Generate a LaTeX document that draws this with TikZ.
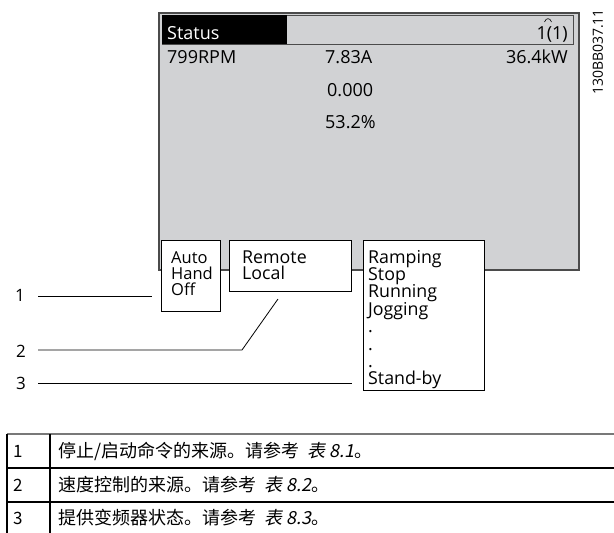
\documentclass[tikz,border=0pt]{standalone}
\usepackage{fontspec}
\setmainfont{Open Sans}
\newfontfamily\cjk[AutoFakeSlant=0.2]{Noto Sans CJK SC}
\definecolor{panel}{RGB}{209,210,212}
\definecolor{panelborder}{RGB}{75,75,75}
\definecolor{tgray}{RGB}{120,120,120}
\newcommand\mytight{\lineskiplimit=-30pt\relax}
\tikzset{
  pnl/.style={font=\fontsize{18}{18}\selectfont, inner sep=0pt},
  boxtxt/.style={font=\fontsize{16.5}{16}\selectfont\mytight, inner sep=0pt, anchor=base west, align=left},
  boxtxtb/.style={font=\fontsize{17.8}{17.4}\selectfont\mytight, inner sep=0pt, anchor=base west, align=left},
  whitebox/.style={draw=black, fill=white, line width=0.9pt},
  callout/.style={draw=black, line width=0.8pt},
  lbl/.style={font=\fontsize{17}{17}\selectfont, inner sep=0pt},
  tnum/.style={font=\cjk\fontsize{17}{17}\selectfont, inner sep=0pt, anchor=west},
  ttxt/.style={font=\cjk\fontsize{18}{18}\selectfont, inner sep=0pt, anchor=west},
  rule/.style={draw=black, line width=1.6pt}
}
\begin{document}
\begin{tikzpicture}[x=1pt,y=-1pt]
\useasboundingbox (0,0) rectangle (614,533);
% gray panel
\draw[fill=panel, draw=panelborder, line width=1.3pt] (159,13) rectangle (579,270);
% header
\draw[fill=panel, draw=panelborder, line width=0.8pt] (162,15) rectangle (573,44);
\fill[black] (162,15) rectangle (287,44);
\node[pnl, text=white, anchor=base west] (status) at (167,39) {Status};
\node[pnl, anchor=base east] (page) at (568,39) {1(1)};
\draw[line width=0.6pt] (544.5,22) .. controls (546,17.5) and (550,17.5) .. (551.5,22);
% values
\node[pnl, anchor=base west] (rpm) at (167,63) {799RPM};
\node[pnl, anchor=base west] (amp) at (325,63) {7.83A};
\node[pnl, anchor=base east] (kw) at (568,63) {36.4kW};
\node[pnl, anchor=base west] (zero) at (327,96) {0.000};
\node[pnl, anchor=base west] (pct) at (325,128) {53.2\%};
% id
\node[font=\fontsize{14}{14}\selectfont, rotate=90, inner sep=0pt] (id) at (598,52) {130BB037.11};
% boxes (text nodes anchored at the baseline of their last line)
\draw[whitebox] (161,240) rectangle (220,311);
\node[boxtxt] (mode) at (171,295) {Auto\\Hand\\Off};
\draw[whitebox] (229,240) rectangle (351,291);
\node[boxtxtb, font=\fontsize{17.8}{16.5}\selectfont\mytight] (ref) at (242,279.5) {Remote\\Local};
\draw[whitebox] (363,240) rectangle (484,390);
\node[boxtxtb] (state) at (368,384.8) {Ramping\\Stop\\Running\\Jogging\\.\\.\\.\\Stand-by};
% callouts
\node[lbl] (l1) at (20,295) {1};
\node[lbl] (l2) at (21,351) {2};
\node[lbl] (l3) at (21,383) {3};
\coordinate (e1) at (152,296);
\coordinate (k2) at (242,350);
\coordinate (e2) at (278,299);
\coordinate (e3) at (352,383);
\draw[callout] (38,296) -- (e1);
\draw[callout] (38,350) -- (k2) -- (e2);
\draw[callout] (38,383) -- (e3);
% table
\draw[draw=tgray, line width=1.2pt] (7,434) -- (614,434);
\draw[rule] (7,468) -- (614,468);
\draw[rule] (7,502) -- (614,502);
\draw[draw=black, line width=1.2pt] (7,434) -- (7,533);
\draw[rule] (50,434) -- (50,533);
\node[tnum] (t1) at (13,451) {1};
\node[tnum] (t2) at (13,485) {2};
\node[tnum] (t3) at (13,518) {3};
\node[ttxt] (r1) at (58,451) {停止/启动命令的来源。请参考\ \ {\itshape 表 8.1}。};
\node[ttxt] (r2) at (58,485) {速度控制的来源。请参考\ \ {\itshape 表 8.2}。};
\node[ttxt] (r3) at (58,518) {提供变频器状态。请参考\ \ {\itshape 表 8.3}。};
\end{tikzpicture}
\end{document}
